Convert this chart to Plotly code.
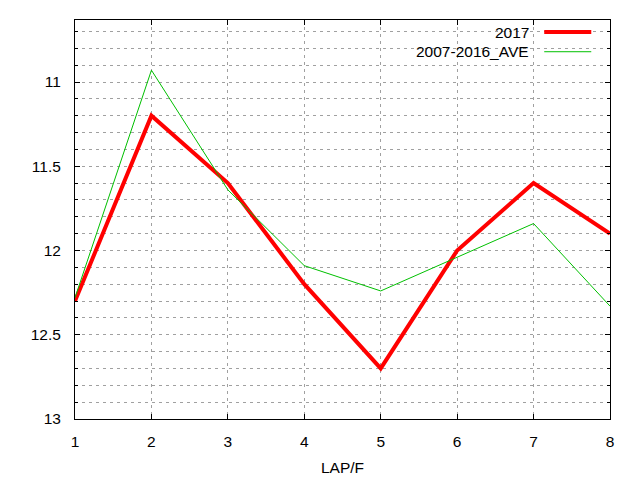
import plotly.graph_objects as go

laps = [1, 2, 3, 4, 5, 6, 7, 8]
y2017 = [12.3, 11.2, 11.6, 12.2, 12.7, 12.0, 11.6, 11.9]
yave = [12.28, 10.93, 11.64, 12.09, 12.24, 12.04, 11.84, 12.33]
names = ["2017", "2007-2016_AVE"]
colors = ["#ff0000", "#00c000"]
widths = [4, 1]

FONT = "Liberation Sans, Arial, sans-serif"
FS = 15.5
GRID = "#a0a0a0"
OFF = 8  # page body margin offset

fig = go.Figure()
for ys, nm, c, w in zip([y2017, yave], names, colors, widths):
    fig.add_trace(go.Scatter(x=laps, y=ys, mode="lines", name=nm,
                             line=dict(color=c, width=w), showlegend=False))

# plot area in screen pixels: x 75.3..609.7, y 20.3..419
L, R, T, B = 75.3, 609.7, 20.3, 419.0
W, H = R - L, B - T
def px(x):
    return (x - L) / W
def py(y):
    return 1 - (y - T) / H

shapes = [dict(type="rect", xref="paper", yref="paper", layer="between",
               x0=px(407), x1=px(598), y0=py(61), y1=py(T + 0.5),
               fillcolor="white", line=dict(width=0))]
annotations = []
rows = [32.3, 52.0]
for nm, c, w, ry in zip(names, colors, widths, rows):
    annotations.append(dict(text=nm, xref="paper", yref="paper", x=px(531), y=py(ry),
                            xanchor="right", yanchor="middle", showarrow=False,
                            font=dict(family=FONT, size=FS, color="#000000")))
    shapes.append(dict(type="line", xref="paper", yref="paper", x0=px(544), x1=px(591),
                       y0=py(ry), y1=py(ry), line=dict(color=c, width=w)))

fig.update_layout(
    width=640, height=480,
    margin=dict(l=L - OFF, r=640 - (R - OFF), t=T - OFF, b=480 - (B - OFF)),
    paper_bgcolor="white", plot_bgcolor="white",
    font=dict(family=FONT, size=FS, color="#000000"),
    shapes=shapes, annotations=annotations,
    xaxis=dict(range=[1, 8], dtick=1, tick0=1, showline=True, linecolor="black", linewidth=1,
               mirror="allticks", ticks="inside", ticklen=5, tickcolor="black",
               showgrid=True, gridcolor=GRID, griddash="3px,4px", gridwidth=1,
               zeroline=False, ticklabelstandoff=8,
               title=dict(text="LAP/F", standoff=13, font=dict(family=FONT, size=FS))),
    yaxis=dict(range=[13, 10.632], dtick=0.5, tick0=11, showline=True, linecolor="black",
               linewidth=1, mirror="allticks", ticks="inside", ticklen=5, tickcolor="black",
               showgrid=True, gridcolor=GRID, griddash="3px,4px", gridwidth=1,
               zeroline=False, ticklabelstandoff=10,
               minor=dict(dtick=0.1, ticks="inside", ticklen=3, tickcolor="black",
                          showgrid=True, gridcolor=GRID, griddash="3px,4px", gridwidth=1)),
)

fig.write_html("out.html")
